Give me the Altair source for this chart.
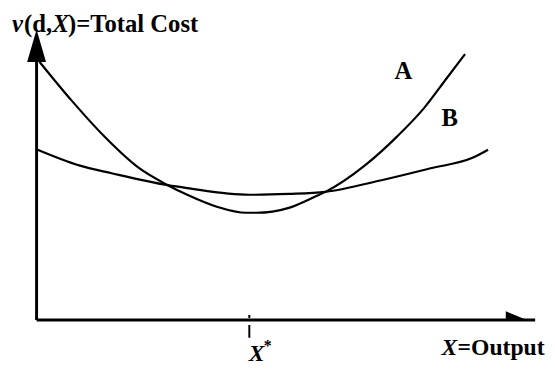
import altair as alt
import pandas as pd

# Curve A (steep U) and curve B (flat U): output (0-100) vs total cost (0-100)
a_x = [0.6, 7.1, 13.8, 20.3, 26.2, 30.1, 36.0, 41.9, 43.9, 50.4, 55.7, 57.7, 65.6, 72.0, 77.4, 81.9, 85.6]
a_y = [88.8, 75.3, 62.7, 52.5, 46.4, 43.1, 39.0, 36.9, 36.9, 38.6, 42.5, 44.1, 53.2, 63.1, 72.9, 83.1, 91.5]
b_x = [0.2, 8.5, 15.0, 26.2, 30.1, 42.5, 50.4, 57.7, 68.9, 78.7, 87.2, 90.2]
b_y = [58.6, 53.2, 50.5, 46.4, 45.4, 43.1, 43.4, 44.1, 48.1, 52.2, 55.9, 58.6]

x_star = 42.5
x_axis_end = 99.6
y_axis_end = 88.8
y_arrow_mid = 94.4

# annotation texts: text, x, y, italic, size
lab_text = ["v", "(d,", "X", ")=Total Cost", "A", "B", "X", "*", "X", "=Output"]
lab_x = [-4.9, -2.5, 3.2, 6.3, 71.5, 80.9, 42.4, 45.4, 80.9, 84.1]
lab_y = [99.0, 99.0, 99.0, 99.0, 83.0, 66.8, -14.2, -10.8, -11.9, -11.9]
lab_italic = ["italic", "normal", "italic", "normal", "normal", "normal", "italic", "normal", "italic", "normal"]
lab_size = [25, 25, 25, 25, 25, 25, 24, 16, 24, 24]

FONT = "Liberation Serif"

xs = alt.Scale(domain=[0, 100], nice=False, zero=False)
ys = alt.Scale(domain=[0, 100], nice=False, zero=False)

curves = pd.DataFrame(
    {"x": a_x + b_x, "y": a_y + b_y, "curve": ["A"] * len(a_x) + ["B"] * len(b_x)}
)

lines = alt.Chart(curves).mark_line(
    interpolate="monotone", color="black", strokeWidth=2.2
).encode(
    x=alt.X("x:Q", scale=xs, axis=None),
    y=alt.Y("y:Q", scale=ys, axis=None),
    detail="curve:N",
)

axes_df = pd.DataFrame({
    "x": [0, 0], "x2": [0, x_axis_end], "y": [0, 0], "y2": [y_axis_end, 0]
})
axes = alt.Chart(axes_df).mark_rule(color="black", strokeWidth=3).encode(
    x=alt.X("x:Q", scale=xs, axis=None), x2="x2:Q",
    y=alt.Y("y:Q", scale=ys, axis=None), y2="y2:Q",
)

yarrow = alt.Chart(pd.DataFrame({"x": [0], "y": [y_arrow_mid]})).mark_point(
    shape="M0,-1L0.58,1L-0.58,1Z", filled=True, color="black", opacity=1, size=1089
).encode(x=alt.X("x:Q", scale=xs, axis=None), y=alt.Y("y:Q", scale=ys, axis=None))

xarrow = alt.Chart(pd.DataFrame({"x": [95.9], "y": [1.5]})).mark_point(
    shape="M-1,-0.41L1,0.41L-1,0.41Z", filled=True, color="black", opacity=1, size=484
).encode(x=alt.X("x:Q", scale=xs, axis=None), y=alt.Y("y:Q", scale=ys, axis=None))

tick = alt.Chart(pd.DataFrame({"x": [x_star], "y": [1.7], "y2": [-6.1]})).mark_rule(
    color="black", strokeWidth=2, strokeDash=[3, 7, 13, 0]
).encode(
    x=alt.X("x:Q", scale=xs, axis=None),
    y=alt.Y("y:Q", scale=ys, axis=None), y2="y2:Q",
)

labels_df = pd.DataFrame({
    "t": lab_text, "x": lab_x, "y": lab_y, "st": lab_italic, "sz": lab_size
})
texts = []
for st in ["italic", "normal"]:
    sub = labels_df[labels_df["st"] == st]
    for sz in sorted(sub["sz"].unique()):
        d = sub[sub["sz"] == sz]
        texts.append(
            alt.Chart(d).mark_text(
                font=FONT, fontSize=int(sz), fontStyle=st, fontWeight="bold",
                align="left", baseline="alphabetic", color="black"
            ).encode(
                x=alt.X("x:Q", scale=xs, axis=None),
                y=alt.Y("y:Q", scale=ys, axis=None),
                text="t:N",
            )
        )

chart = alt.layer(axes, lines, yarrow, xarrow, tick, *texts).properties(
    width=508, height=295,
    padding={"left": 29, "top": 19, "right": 10, "bottom": 47},
    autosize=alt.AutoSizeParams(type="none"),
    background="white",
).configure_view(stroke=None)

chart.save("out.html", embed_options={"renderer": "svg", "actions": False})
